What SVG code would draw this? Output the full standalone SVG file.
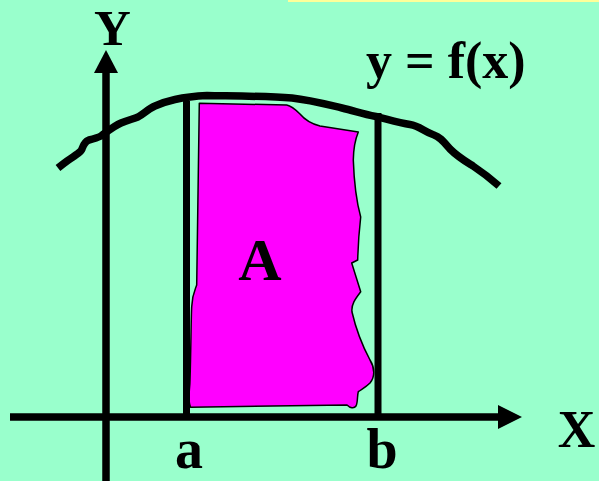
<svg xmlns="http://www.w3.org/2000/svg" width="599" height="481" viewBox="0 0 599 481">
<defs>
<style>
.lbl{font-family:"Liberation Serif","Times New Roman",serif;font-weight:bold;fill:#000}
.ax{stroke:#000;stroke-width:7.5;fill:none}
.bar{stroke:#000;stroke-width:7;fill:none}
</style>
</defs>
<rect x="0" y="0" width="599" height="481" fill="#99FFCC"/>
<rect x="288" y="0" width="311" height="2" fill="#FFFF99"/>
<g id="area">
<path d="M199.3,103.3 L286.7,105 C292,106 296,110 300,114 C305,120 312,124 320,126 L358.3,132 C355,140 353.5,148 353.3,160 C354,180 356,200 360.7,217 C359,232 358,248 357.7,260 L351.7,263 L360.7,291.7 C356,298 351,304 352,312 C355,325 362,345 370,360 C375,368 375,377 370,383 C366,387 362,389 358.3,391.7 C357,396 358,402 356,406 C354,409 350,408 347,405 L190.7,407.3 C187,400 190,390 190,380 C191,350 191,320 191.7,306.7 C192,295 195,290 196.7,285 Z" fill="#FF00FF" stroke="#000" stroke-width="1.5" stroke-linejoin="round"/>
<text class="lbl" x="260" y="280" font-size="60" text-anchor="middle">A</text>
</g>
<g id="curve">
<path d="M58,168 C63,164 68,160 73,157 C77,154 81,152 82,149 C83,146 84,142 89,140 C93,139 97,138 101,136 C108,131 114,126 121,123 C128,120 133,119 138,117 C144,114 148,109 155,106 C162,103 168,101 175,99.5 C186,97 196,96 207,95.5 C230,96 265,96 292,98 C310,100 325,104 342,108 C355,111 362,114 376,116.5 C390,120 400,123 410,124.5 C420,126 424,132 434,135 C440,137 443,141 450,149 C458,157 465,161 473,166 C482,172 491,179 499,186" fill="none" stroke="#000" stroke-width="7.5" stroke-linejoin="round"/>
<text class="lbl" x="366" y="78" font-size="52">y = f(x)</text>
</g>
<g id="bound-a">
<line class="bar" x1="186.5" y1="101" x2="186.5" y2="417"/>
<text class="lbl" x="189" y="468" font-size="56" text-anchor="middle">a</text>
</g>
<g id="bound-b">
<line class="bar" x1="378" y1="113" x2="378" y2="417"/>
<text class="lbl" x="382" y="468" font-size="56" text-anchor="middle">b</text>
</g>
<g id="axes">
<line class="ax" x1="10" y1="417" x2="500" y2="417"/>
<polygon points="498,405 522,417 498,429" fill="#000"/>
<line class="ax" x1="106" y1="481" x2="106" y2="70"/>
<polygon points="94,73 106,50 118,73" fill="#000"/>
<text class="lbl" x="112.5" y="45" font-size="51" text-anchor="middle">Y</text>
<text class="lbl" x="576.5" y="447" font-size="52" text-anchor="middle">X</text>
</g>
</svg>
